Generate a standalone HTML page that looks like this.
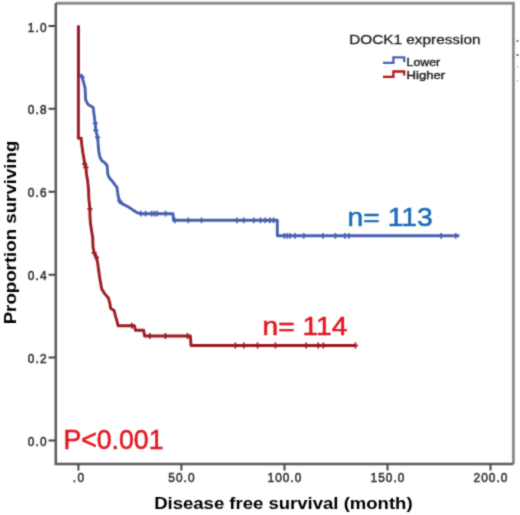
<!DOCTYPE html>
<html><head><meta charset="utf-8"><title>Kaplan-Meier</title><style>
html,body{margin:0;padding:0;background:#fff;width:520px;height:515px;overflow:hidden}
svg{display:block}
text{font-family:"Liberation Sans",sans-serif}
.tl{font-size:13.5px;fill:#2e2e38;stroke:#2e2e38;stroke-width:0.55px}
.at{font-size:16px;font-weight:bold;fill:#000}
.lt{font-size:13px;fill:#1e1e1e;stroke:#1e1e1e;stroke-width:0.3px}
.lg{font-size:11px;fill:#1e1e1e;stroke:#1e1e1e;stroke-width:0.4px}
.an{font-size:25.9px;stroke-width:0.5px}
</style></head>
<body><svg width="520" height="515" viewBox="0 0 520 515"><defs><filter id="bl" x="-5%" y="-5%" width="110%" height="110%"><feConvolveMatrix order="3" kernelMatrix="1 4 1 4 16 4 1 4 1" divisor="36" edgeMode="none" preserveAlpha="false"/></filter></defs><rect width="520" height="515" fill="#fff"/><g filter="url(#bl)"><path d="M55.8 3.3H513.4V464" fill="none" stroke="#8e8e8e" stroke-width="2.9"/><path d="M55.8 3.3V464H513.4" fill="none" stroke="#5a5a5a" stroke-width="2.5"/><path d="M48.5 25.9H55M48.5 108.8H55M48.5 191.7H55M48.5 274.7H55M48.5 357.6H55M48.5 440.5H55" stroke="#444" stroke-width="2"/><path d="M78.4 464V470.5M181.4 464V470.5M284.5 464V470.5M387.5 464V470.5M490.5 464V470.5" stroke="#444" stroke-width="2"/><text transform="translate(46.6,31.5) scale(0.88,1)" text-anchor="end" class="tl" textLength="21.34" lengthAdjust="spacing">1.0</text><text transform="translate(46.6,114.4) scale(0.88,1)" text-anchor="end" class="tl" textLength="21.34" lengthAdjust="spacing">0.8</text><text transform="translate(46.6,197.3) scale(0.88,1)" text-anchor="end" class="tl" textLength="21.34" lengthAdjust="spacing">0.6</text><text transform="translate(46.6,280.3) scale(0.88,1)" text-anchor="end" class="tl" textLength="21.34" lengthAdjust="spacing">0.4</text><text transform="translate(46.6,363.2) scale(0.88,1)" text-anchor="end" class="tl" textLength="21.34" lengthAdjust="spacing">0.2</text><text transform="translate(46.6,446.1) scale(0.88,1)" text-anchor="end" class="tl" textLength="21.34" lengthAdjust="spacing">0.0</text><text transform="translate(78.4,482.3) scale(0.88,1)" text-anchor="middle" class="tl" textLength="12.81" lengthAdjust="spacing">.0</text><text transform="translate(181.4,482.3) scale(0.88,1)" text-anchor="middle" class="tl" textLength="29.86" lengthAdjust="spacing">50.0</text><text transform="translate(284.5,482.3) scale(0.88,1)" text-anchor="middle" class="tl" textLength="38.41" lengthAdjust="spacing">100.0</text><text transform="translate(387.5,482.3) scale(0.88,1)" text-anchor="middle" class="tl" textLength="38.41" lengthAdjust="spacing">150.0</text><text transform="translate(490.5,482.3) scale(0.88,1)" text-anchor="middle" class="tl" textLength="38.41" lengthAdjust="spacing">200.0</text><text x="283.4" y="509.2" text-anchor="middle" class="at" textLength="258.4" lengthAdjust="spacingAndGlyphs">Disease free survival (month)</text><text transform="translate(15.8,232.5) rotate(-90)" text-anchor="middle" class="at" textLength="183.7" lengthAdjust="spacingAndGlyphs">Proportion surviving</text><polyline points="78.4,25.6 78.4,74.0 80.0,75.3 82.2,77.1 85.1,88.1 85.6,99.8 88.0,104.4 93.2,107.4 93.8,112.6 95.2,123.3 95.8,130.3 97.6,137.3 98.6,150.0 99.4,154.7 100.2,157.8 102.1,160.9 104.8,162.8 107.1,165.5 107.5,170.2 107.9,174.9 109.5,178.0 112.2,181.1 114.5,184.2 116.9,187.3 117.8,193.5 118.6,198.2 119.8,201.3 122.1,203.6 125.2,205.2 127.9,206.7 130.6,208.3 133.7,210.6 136.9,212.6 140.7,213.7 173.0,213.7 173.5,220.3 277.3,220.3 277.3,235.8 459.3,235.8" fill="none" stroke="#4762b0" stroke-width="2.9" stroke-linejoin="round"/><path d="M82.2 74.1V79.9M79.6 77.0H84.8M95.2 120.4V126.2M92.6 123.3H97.8M95.8 127.4V133.2M93.2 130.3H98.4M97.6 134.4V140.2M95.0 137.3H100.2M119.8 198.4V204.2M117.2 201.3H122.4M140.8 210.8V216.6M138.2 213.7H143.4M145.6 210.8V216.6M143.0 213.7H148.2M151.5 210.8V216.6M148.9 213.7H154.1M154.4 210.8V216.6M151.8 213.7H157.0M157.0 210.8V216.6M154.4 213.7H159.6M165.6 210.8V216.6M163.0 213.7H168.2M174.8 217.4V223.2M172.2 220.3H177.4M188.3 217.4V223.2M185.7 220.3H190.9M201.5 217.4V223.2M198.9 220.3H204.1M236.9 217.4V223.2M234.3 220.3H239.5M243.8 217.4V223.2M241.2 220.3H246.4M253.8 217.4V223.2M251.2 220.3H256.4M260.5 217.4V223.2M257.9 220.3H263.1M265.2 217.4V223.2M262.6 220.3H267.8M269.8 217.4V223.2M267.2 220.3H272.4M273.6 217.4V223.2M271.0 220.3H276.2M284.4 232.9V238.7M281.8 235.8H287.0M287.3 232.9V238.7M284.7 235.8H289.9M290.2 232.9V238.7M287.6 235.8H292.8M295.0 232.9V238.7M292.4 235.8H297.6M303.7 232.9V238.7M301.1 235.8H306.3M322.9 232.9V238.7M320.3 235.8H325.5M335.4 232.9V238.7M332.8 235.8H338.0M345.0 232.9V238.7M342.4 235.8H347.6M348.8 232.9V238.7M346.2 235.8H351.4M441.1 232.9V238.7M438.5 235.8H443.7M455.7 232.9V238.7M453.1 235.8H458.3" stroke="#4762b0" stroke-width="1.7"/><polyline points="78.4,25.6 78.4,138.2 81.2,138.2 81.8,145.1 83.0,153.3 84.2,160.3 84.7,163.8 85.9,167.3 86.5,174.3 87.7,181.3 88.6,190.0 88.7,196.7 89.9,208.9 89.9,215.3 90.5,223.4 91.7,231.6 92.8,238.6 93.0,247.0 94.2,252.8 96.5,257.5 97.7,263.3 98.8,271.5 100.0,279.6 101.7,289.0 104.6,293.6 107.6,297.1 108.3,297.8 109.7,302.6 110.7,308.4 114.1,310.4 115.5,316.2 117.0,321.1 118.0,325.7 134.5,325.7 135.4,330.3 143.6,330.3 144.6,336.0 190.4,336.0 191.0,345.5 355.5,345.5" fill="none" stroke="#9c1a24" stroke-width="2.9" stroke-linejoin="round"/><path d="M84.7 160.9V166.7M82.1 163.8H87.3M85.9 164.4V170.2M83.3 167.3H88.5M89.9 206.0V211.8M87.3 208.9H92.5M94.2 249.9V255.7M91.6 252.8H96.8M96.5 254.6V260.4M93.9 257.5H99.1M131.9 322.8V328.6M129.3 325.7H134.5M149.8 333.1V338.9M147.2 336.0H152.4M165.4 333.1V338.9M162.8 336.0H168.0M187.5 333.1V338.9M184.9 336.0H190.1M235.3 342.6V348.4M232.7 345.5H237.9M243.8 342.6V348.4M241.2 345.5H246.4M257.5 342.6V348.4M254.9 345.5H260.1M275.4 342.6V348.4M272.8 345.5H278.0M306.2 342.6V348.4M303.6 345.5H308.8M318.2 342.6V348.4M315.6 345.5H320.8M323.3 342.6V348.4M320.7 345.5H325.9M355.5 342.6V348.4M352.9 345.5H358.1" stroke="#9c1a24" stroke-width="1.7"/><text x="349.2" y="44.2" class="lt" textLength="131.3" lengthAdjust="spacingAndGlyphs">DOCK1 expression</text><path d="M383 62.8H393.4V57.3H404.2V62" fill="none" stroke="#4762b0" stroke-width="2.3"/><path d="M383 76.9H393.4V71.5H404.2V75.5" fill="none" stroke="#b8161f" stroke-width="2.3"/><text x="406.6" y="66" class="lg" textLength="33.5" lengthAdjust="spacingAndGlyphs">Lower</text><text x="406.6" y="78.8" class="lg" textLength="38.6" lengthAdjust="spacingAndGlyphs">Higher</text><circle cx="517.5" cy="41" r="1.1" fill="#556"/><circle cx="517.5" cy="55" r="1.1" fill="#733"/><circle cx="517.5" cy="66.7" r="0.9" fill="#bbb"/><circle cx="517.5" cy="80.7" r="0.9" fill="#caa"/><text x="347.6" y="225.8" class="an" fill="#1d6ab8" stroke="#1d6ab8" textLength="85.2" lengthAdjust="spacingAndGlyphs">n= 113</text><text x="262.6" y="335.4" class="an" fill="#e0141e" stroke="#e0141e" textLength="84.7" lengthAdjust="spacingAndGlyphs">n= 114</text><text x="63.4" y="448.6" class="an" fill="#e0141e" stroke="#e0141e" style="font-size:27.3px" textLength="100.1" lengthAdjust="spacingAndGlyphs">P&lt;0.001</text></g></svg></body></html>
